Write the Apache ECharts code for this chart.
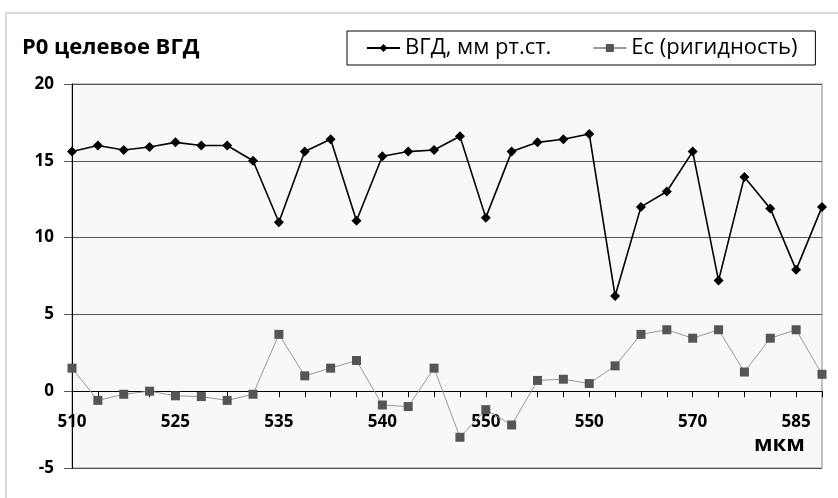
<!DOCTYPE html>
<html>
<head>
<meta charset="utf-8">
<script src="https://cdn.jsdelivr.net/npm/echarts@6/dist/echarts.min.js"></script>
<style>
  html, body { margin: 0; padding: 0; background: #fff; }
  #chart { width: 838px; height: 498px; }
</style>
</head>
<body>
<div id="chart"></div>
<script>
// подписи оси X (нечитаемые промежуточные оставлены пустыми)
var categories = [
  '510', '', '', '', '525', '', '', '', '535', '', '', '', '540', '', '', '',
  '550', '', '', '', '550', '', '', '', '570', '', '', '', '585', ''
];
// ВГД, мм рт.ст.
var vgd = [
  15.6, 16.0, 15.7, 15.9, 16.2, 16.0, 16.0, 15.0, 11.0, 15.6,
  16.4, 11.1, 15.3, 15.6, 15.7, 16.6, 11.3, 15.6, 16.2, 16.4,
  16.75, 6.2, 12.0, 13.0, 15.6, 7.2, 13.95, 11.9, 7.9, 12.0
];
// Ес (ригидность)
var es = [
  1.5, -0.6, -0.2, 0.0, -0.3, -0.35, -0.6, -0.2, 3.7, 1.0,
  1.5, 2.0, -0.9, -1.0, 1.5, -3.0, -1.2, -2.2, 0.7, 0.78,
  0.5, 1.65, 3.7, 4.0, 3.45, 4.0, 1.25, 3.45, 4.0, 1.1
];

var font = '"Open Sans", "Noto Sans", sans-serif';

var yMin = -5, yMax = 20;
var gridTop = 84, gridBottom = 30;
var gridH = 498 - gridTop - gridBottom;
// ось X проходит через ноль оси Y
var zeroOffset = -gridH * (0 - yMin) / (yMax - yMin);

var chart = echarts.init(document.getElementById('chart'), null, { renderer: 'canvas' });

var option = {
  backgroundColor: '#fff',
  animation: false,
  title: {
    text: 'P0 целевое ВГД',
    left: 17,
    top: 32,
    textStyle: { fontFamily: font, fontSize: 22, fontWeight: 'bold', color: '#000' }
  },
  legend: {
    left: 347,
    top: 31,
    padding: [6, 18, 6, 19],
    itemGap: 41,
    itemWidth: 33,
    itemHeight: 10,
    borderColor: '#000',
    borderWidth: 1,
    backgroundColor: '#fff',
    textStyle: { fontFamily: font, fontSize: 22, color: '#000' },
    data: ['ВГД, мм рт.ст.', 'Ес (ригидность)']
  },
  grid: {
    left: 72,
    right: 16,
    top: gridTop,
    bottom: gridBottom,
    outerBoundsMode: 'none',
    show: true,
    backgroundColor: '#f8f8f8',
    borderColor: '#888',
    borderWidth: 1
  },
  xAxis: {
    type: 'category',
    data: categories,
    boundaryGap: false,
    offset: zeroOffset,
    axisLine: { onZero: false, lineStyle: { color: '#000', width: 1 } },
    axisTick: { show: true, interval: 0, length: 6, lineStyle: { color: '#000' } },
    axisLabel: {
      interval: 3,
      margin: 22,
      fontFamily: font,
      fontSize: 17,
      fontWeight: 'bold',
      color: '#000'
    },
    splitLine: { show: false }
  },
  yAxis: {
    type: 'value',
    min: yMin,
    max: yMax,
    interval: 5,
    axisLine: { show: true, lineStyle: { color: '#000', width: 1 } },
    axisTick: { show: true, length: 8, lineStyle: { color: '#555' } },
    axisLabel: {
      margin: 18,
      fontFamily: font,
      fontSize: 17,
      fontWeight: 'bold',
      color: '#000'
    },
    splitLine: { show: true, lineStyle: { color: '#555', width: 1 } }
  },
  graphic: [
    {
      type: 'rect',
      silent: true,
      shape: { x: 6, y: 13, width: 900, height: 600 },
      style: { fill: 'none', stroke: '#d9d9d9', lineWidth: 2 }
    },
    {
      type: 'text',
      left: 754,
      top: 434,
      style: { text: 'мкм', font: 'bold 22px ' + font, fill: '#000' }
    }
  ],
  series: [
    {
      name: 'ВГД, мм рт.ст.',
      type: 'line',
      data: vgd,
      symbol: 'diamond',
      symbolSize: 10,
      lineStyle: { color: '#000', width: 1.6 },
      itemStyle: { color: '#000' },
      z: 3
    },
    {
      name: 'Ес (ригидность)',
      type: 'line',
      data: es,
      symbol: 'rect',
      symbolSize: 9,
      lineStyle: { color: '#999', width: 1 },
      itemStyle: { color: '#555' },
      z: 2
    }
  ]
};

chart.setOption(option);
</script>
</body>
</html>
